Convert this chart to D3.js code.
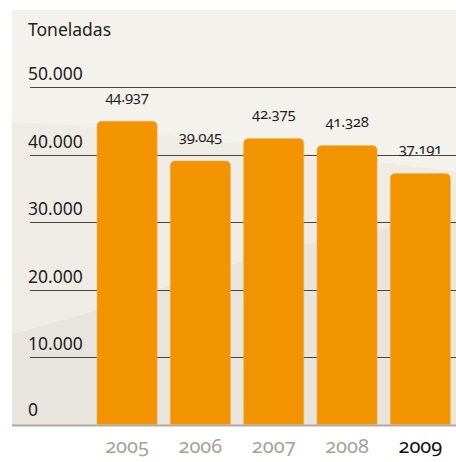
<!DOCTYPE html>
<html><head><meta charset="utf-8">
<script src="https://cdn.jsdelivr.net/npm/d3@7"></script>
<style>
html,body{margin:0;padding:0;background:#fff;}
svg{display:block;}
text{font-family:"Noto Sans","Open Sans",sans-serif;}
.onum{font-variant-numeric:oldstyle-nums;font-feature-settings:"onum" 1;}
</style></head>
<body>
<script>
const years = ["2005","2006","2007","2008","2009"];
const values = [44937, 39045, 42375, 41328, 37191];
const valueLabels = ["44.937","39.045","42.375","41.328","37.191"];
const tickValues = [0, 10000, 20000, 30000, 40000, 50000];
const tickLabels = ["0","10.000","20.000","30.000","40.000","50.000"];
const unitLabel = "Toneladas";

const W = 456, H = 462;
const svg = d3.select("body").append("svg").attr("width", W).attr("height", H);

// panel background
const px0 = 12, py0 = 10, px1 = 456, py1 = 425;
svg.append("rect").attr("x", px0).attr("y", py0).attr("width", px1 - px0).attr("height", py1 - py0).attr("fill", "#f4f2ec");
const line = d3.line().curve(d3.curveBasis);
svg.append("path")
  .attr("d", line([[px0,122],[120,128],[250,146],[380,162],[456,172]]) + `L${px1},${py1}L${px0},${py1}Z`)
  .attr("fill", "#efece6");
svg.append("path")
  .attr("d", line([[px0,334],[97,312],[230,263],[350,232],[456,220]]) + `L${px1},${py1}L${px0},${py1}Z`)
  .attr("fill", "#e8e4de");

const y = d3.scaleLinear().domain([0, 50000]).range([424.5, 87]);
const x = d3.scaleBand().domain(years).range([90.4, 457]).paddingInner(0.18).paddingOuter(0.09);

// gridlines
svg.append("g").selectAll("line").data(tickValues.filter(d => d > 0)).join("line")
  .attr("x1", 30).attr("x2", W)
  .attr("y1", d => Math.round(y(d)) + 0.5).attr("y2", d => Math.round(y(d)) + 0.5)
  .attr("stroke", "#4a4540").attr("stroke-width", 1.2);

// tick labels
svg.append("g").selectAll("text").data(tickValues).join("text")
  .attr("x", 28)
  .attr("y", (d) => d === 0 ? y(d) - 9 : y(d) - 7)
  .attr("font-size", 17.5).attr("fill", "#1e1e1e")
  .text((d, i) => tickLabels[i]);

// unit label
svg.append("text").attr("x", 28).attr("y", 35.5).attr("font-size", 17.5).attr("fill", "#1e1e1e").text(unitLabel);

// bars with rounded top corners
function barPath(x0, w, top, bottom, r) {
  return `M${x0},${bottom}V${top + r}Q${x0},${top} ${x0 + r},${top}H${x0 + w - r}Q${x0 + w},${top} ${x0 + w},${top + r}V${bottom}Z`;
}
svg.append("g").selectAll("path").data(values).join("path")
  .attr("d", (d, i) => barPath(x(years[i]), x.bandwidth(), y(d), y(0), 5))
  .attr("fill", "#f29400")
  .attr("stroke", "#f5b255").attr("stroke-width", 0.6);

// value labels
svg.append("g").selectAll("text").data(values).join("text")
  .attr("class", "onum")
  .attr("x", (d, i) => x(years[i]) + x.bandwidth() / 2)
  .attr("y", d => y(d) - 19)
  .attr("text-anchor", "middle")
  .attr("font-size", 15).attr("fill", "#1e1e1e")
  .attr("letter-spacing", -0.3)
  .text((d, i) => valueLabels[i]);

// baseline
svg.append("line").attr("x1", px0).attr("x2", W).attr("y1", 425.5).attr("y2", 425.5)
  .attr("stroke", "#b3a99e").attr("stroke-width", 2);

// year labels
svg.append("g").selectAll("text").data(years).join("text")
  .attr("class", "onum")
  .attr("x", d => x(d) + x.bandwidth() / 2)
  .attr("y", 453)
  .attr("text-anchor", "middle")
  .attr("font-size", 20)
  .attr("fill", (d, i) => i === years.length - 1 ? "#111" : "#aaa097")
  .text(d => d);
</script>
</body></html>
